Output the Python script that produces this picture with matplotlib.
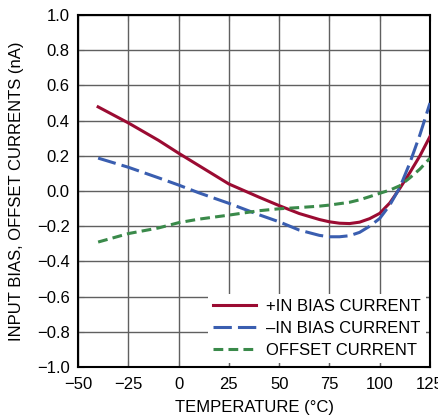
import matplotlib
matplotlib.use("Agg")
import matplotlib.pyplot as plt

# Temperature points (deg C)
temp = [-40, -25, -10, 0, 10, 25, 40, 50, 60, 70, 75, 80, 85, 90, 95, 100, 105, 110, 115, 120, 125]

# Currents (nA)
plus_in_bias = [0.478, 0.387, 0.288, 0.215, 0.145, 0.04, -0.035, -0.083, -0.128, -0.162, -0.175,
                -0.183, -0.185, -0.177, -0.157, -0.127, -0.068, 0.015, 0.105, 0.2, 0.31]
minus_in_bias = [0.187, 0.135, 0.075, 0.034, -0.01, -0.07, -0.135, -0.175, -0.222, -0.252, -0.26,
                 -0.26, -0.254, -0.235, -0.2, -0.156, -0.08, 0.02, 0.16, 0.32, 0.5]
offset = [-0.29, -0.242, -0.21, -0.18, -0.16, -0.137, -0.112, -0.101, -0.094, -0.086, -0.08,
          -0.072, -0.064, -0.05, -0.032, -0.013, 0.005, 0.03, 0.075, 0.125, 0.187]

x_ticks = [-50, -25, 0, 25, 50, 75, 100, 125]
y_ticks = [-1.0, -0.8, -0.6, -0.4, -0.2, 0.0, 0.2, 0.4, 0.6, 0.8, 1.0]

plt.rcParams["font.family"] = ["Liberation Sans", "DejaVu Sans"]
plt.rcParams["font.size"] = 12

fig = plt.figure(figsize=(4.39, 4.17), dpi=100)
ax = fig.add_axes([0.1777, 0.1199, 0.8018, 0.8441])

ax.plot(temp, plus_in_bias, color="#9b0b32", linewidth=2.2, label="+IN BIAS CURRENT", zorder=3)
ax.plot(temp, minus_in_bias, color="#3a5eb0", linewidth=2.2, dashes=(6, 2),
        label="\u2013IN BIAS CURRENT", zorder=3)
ax.plot(temp, offset, color="#3a8a4a", linewidth=2.2, dashes=(3.2, 1.7),
        label="OFFSET CURRENT", zorder=3)

ax.set_xlim(-50, 125)
ax.set_ylim(-1.0, 1.0)
ax.set_xticks(x_ticks)
ax.set_yticks(y_ticks)
ax.set_yticklabels([f"{v:.1f}".replace("-", "\u2212") for v in y_ticks])
ax.grid(True, color="#606060", linewidth=1.0)
ax.set_axisbelow(True)
ax.tick_params(direction="in", length=4, top=True, right=True, color="#606060")
ax.tick_params(axis="x", pad=7)
ax.tick_params(axis="y", pad=6)
for s in ax.spines.values():
    s.set_linewidth(1.5)
    s.set_color("black")

ax.set_xlabel("TEMPERATURE (\u00b0C)", labelpad=6)
ax.set_ylabel("INPUT BIAS, OFFSET CURRENTS (nA)", labelpad=9)

leg = ax.legend(loc="lower right", frameon=True, fancybox=False, framealpha=1.0,
                edgecolor="white", facecolor="white", handlelength=2.6,
                handletextpad=0.6, labelspacing=0.42, borderpad=0.3, borderaxespad=0.25)
leg.get_frame().set_linewidth(0)

fig.savefig("out.png", dpi=100)
